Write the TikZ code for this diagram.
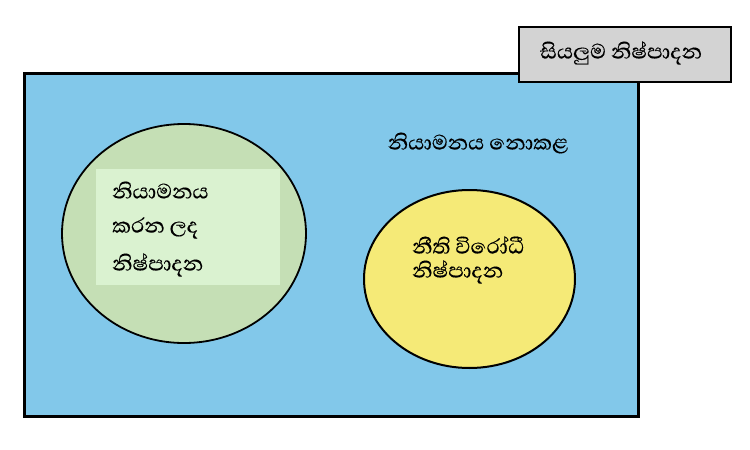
\documentclass[tikz,border=0pt]{standalone}
\usepackage{fontspec}
\usetikzlibrary{shapes.geometric}
\newfontfamily\sinhala[Script=Sinhala,FakeBold=0.3]{Abhaya Libre}
\definecolor{bluebg}{HTML}{82C8EA}
\definecolor{graybox}{HTML}{D3D3D3}
\definecolor{greenell}{HTML}{C5DFB5}
\definecolor{greenrect}{HTML}{DAF2D0}
\definecolor{yellowell}{HTML}{F5EA77}
\tikzset{
  lbl/.style={font=\sinhala\fontsize{26.5}{30}\selectfont, text=black, inner sep=0pt},
  lbll/.style={lbl, anchor=west},
}
\begin{document}
\begin{tikzpicture}[x=1pt,y=-1pt]
\useasboundingbox (0,0) rectangle (750,450);
\fill[white] (0,0) rectangle (750,450);
\node[draw=black, line width=3pt, fill=bluebg, minimum width=614pt, minimum height=343pt, inner sep=0pt] (all) at (331,244.5) {};
\node[draw=black, line width=2pt, fill=graybox, minimum width=212pt, minimum height=55pt, inner sep=0pt] (box) at (625,54.5) {};
\node[lbl] (boxt) at (621,53) {සියලුම නිෂ්පාදන};
\node[lbl] (unreg) at (478,143) {නියාමනය නොකළ};
\node[draw=black, line width=1.8pt, fill=greenell, ellipse, minimum width=244pt, minimum height=219pt, inner sep=0pt] (reg) at (184,233.5) {};
\node[fill=greenrect, minimum width=184pt, minimum height=116pt, inner sep=0pt] (regr) at (188,227) {};
\node[lbll] (r1) at (112,190) {නියාමනය};
\node[lbll] (r2) at (112,228) {කරන ලද};
\node[lbll] (r3) at (112,265) {නිෂ්පාදන};
\node[draw=black, line width=2pt, fill=yellowell, ellipse, minimum width=211pt, minimum height=178pt, inner sep=0pt] (ill) at (469.5,279) {};
\node[lbll] (i1) at (412,245) {නීති විරෝධී};
\node[lbll] (i2) at (412,272) {නිෂ්පාදන};
\end{tikzpicture}
\end{document}
